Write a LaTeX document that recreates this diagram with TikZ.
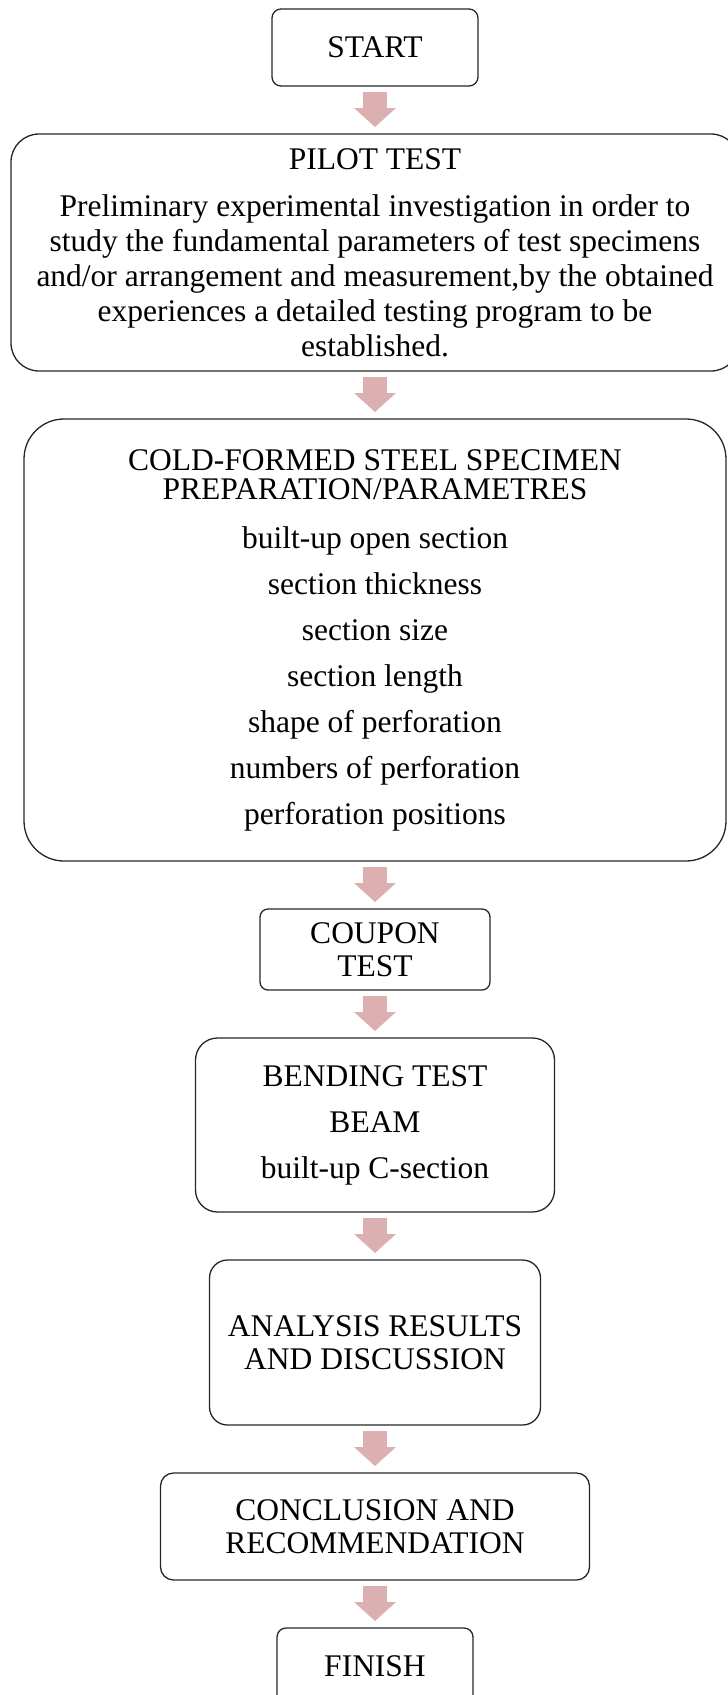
\documentclass[tikz,border=0pt]{standalone}
\usepackage{fontspec}
\setmainfont{Liberation Serif}
\usetikzlibrary{chains,positioning,arrows.meta}
\definecolor{arrowpink}{RGB}{220,176,176}

\begin{document}
\begin{tikzpicture}[x=1pt, y=1pt,
    box/.style={rectangle, draw=black!85, line width=1.3pt, rounded corners=#1, align=center, inner sep=0pt, outer sep=0pt},
    box/.default=9pt,
    flow/.style={draw=arrowpink, line width=24pt, -{Triangle[width=42pt, length=19pt, line width=0pt]}, shorten <=6pt, shorten >=7pt},
    font=\fontsize{31.5}{33}\selectfont,
    node distance=48pt, start chain=going below]
            \useasboundingbox (0,0) rectangle (728,-1695);
            \node[box, on chain, anchor=north, minimum width=206pt, minimum height=77pt] (start) at (375,-9) {START};
            \node[box=28pt, on chain, minimum width=728pt, minimum height=237pt] (pilot) {PILOT TEST\\[14pt]
                Preliminary experimental investigation in order to\\[2pt]
                study the fundamental parameters of test specimens\\[2pt]
                and/or arrangement and measurement,by the obtained\\[2pt]
                experiences a detailed testing program to be\\[2pt]
                established.};
            \node[box=40pt, on chain, minimum width=702pt, minimum height=442pt] (specimen) {COLD-FORMED STEEL SPECIMEN\\[-4pt]
                PREPARATION/PARAMETRES\\[16pt]
                built-up open section\\[13pt]
                section thickness\\[13pt]
                section size\\[13pt]
                section length\\[13pt]
                shape of perforation\\[13pt]
                numbers of perforation\\[13pt]
                perforation positions};
            \node[box=8pt, on chain, minimum width=230pt, minimum height=81pt] (coupon) {COUPON\\TEST};
            \node[box=22pt, on chain, minimum width=359pt, minimum height=174pt] (bending) {BENDING TEST\\[13pt]
                BEAM\\[13pt]
                built-up C-section};
            \node[box=18pt, on chain, minimum width=331pt, minimum height=165pt] (analysis) {ANALYSIS RESULTS\\AND DISCUSSION};
            \node[box=13pt, on chain, minimum width=429pt, minimum height=107pt] (conclusion) {CONCLUSION AND\\RECOMMENDATION};
            \node[box, on chain, minimum width=196pt, minimum height=77pt] (finish) {FINISH};
            \draw[flow] (start) -- (pilot);
            \draw[flow] (pilot) -- (specimen);
            \draw[flow] (specimen) -- (coupon);
            \draw[flow] (coupon) -- (bending);
            \draw[flow] (bending) -- (analysis);
            \draw[flow] (analysis) -- (conclusion);
            \draw[flow] (conclusion) -- (finish);
        \end{tikzpicture}
\end{document}
